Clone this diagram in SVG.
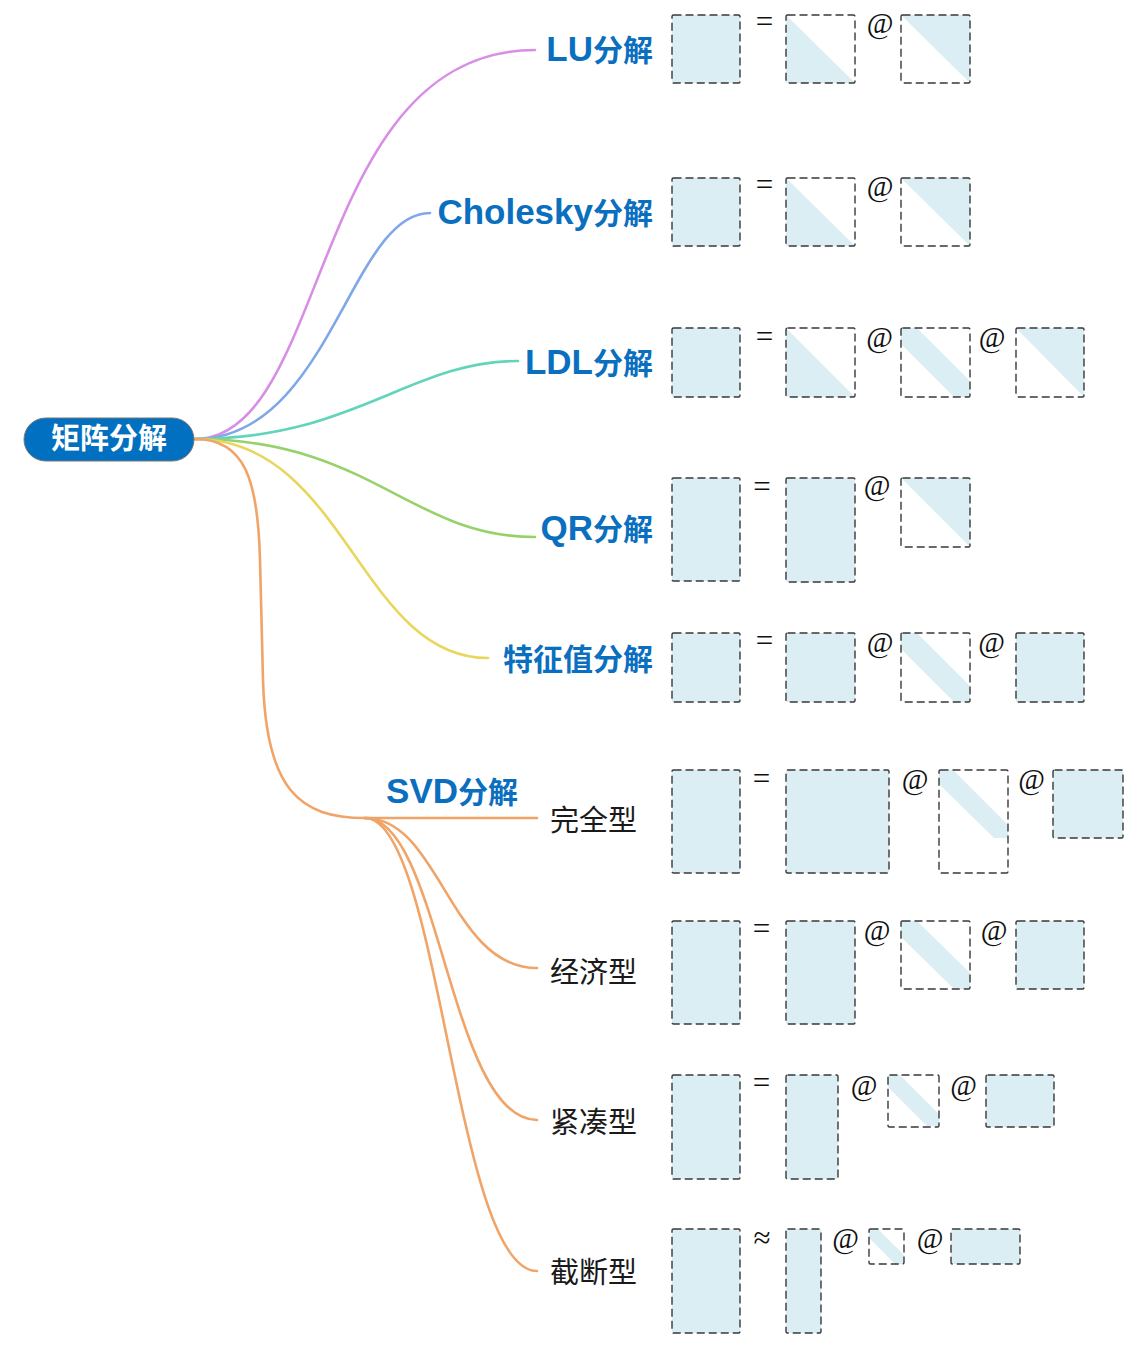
<svg xmlns="http://www.w3.org/2000/svg" width="1148" height="1362" viewBox="0 0 1148 1362">
<style>
.bg{fill:#ffffff}
.c{fill:none;stroke-width:2.6;stroke-linecap:round}
.lbl{font-family:"Liberation Sans","Noto Sans CJK SC",sans-serif;font-weight:bold;font-size:30px;fill:#0b6fc0}
.lat{font-size:35px}
.sub{font-family:"Noto Sans CJK SC","Liberation Sans",sans-serif;font-size:29px;fill:#1a1a1a}
.root-t{font-family:"Noto Sans CJK SC","Liberation Sans",sans-serif;font-weight:bold;font-size:29px;fill:#ffffff}
.m{fill:#dbeef4;stroke:#383838;stroke-width:1.4;stroke-dasharray:8 4}
.e{fill:none;stroke:#383838;stroke-width:1.4;stroke-dasharray:8 4}
.f{fill:#dbeef4}
.op{font-family:"Liberation Serif","DejaVu Serif",serif;font-size:29px;fill:#111;text-anchor:middle}
.eq{font-family:"Liberation Serif","DejaVu Serif",serif;font-size:31px;fill:#111;text-anchor:middle}
</style>
<rect class="bg" x="0" y="0" width="1148" height="1362"/>
<g id="connectors">
<path class="c" stroke="#d98ee6" d="M195,439 C330,439 310,50 535,50"/>
<path class="c" stroke="#80a8e8" d="M195,439 C330,439 350,213 430,213"/>
<path class="c" stroke="#62d4bb" d="M195,439 C355,439 410,361 518,361"/>
<path class="c" stroke="#96d16a" d="M195,439 C370,439 410,537 535,537"/>
<path class="c" stroke="#e8d65e" d="M195,439 C345,439 360,658 488,658"/>
<path class="c" stroke="#f0a468" d="M195,439 C245,439 258,480 260,560 L263,680 C266,790 300,818 365,818"/>
<path class="c" stroke="#f0a468" d="M365,818 L537,818"/>
<path class="c" stroke="#f0a468" d="M365,818 C440,818 450,968 537,968"/>
<path class="c" stroke="#f0a468" d="M365,818 C440,818 450,1120 537,1120"/>
<path class="c" stroke="#f0a468" d="M365,818 C440,818 455,1271 537,1271"/>
</g>
<g id="root">
<rect x="24" y="418" width="170" height="43" rx="21.5" fill="#0270c0" stroke="#777" stroke-width="1"/>
<text class="root-t" x="109" y="449" text-anchor="middle">矩阵分解</text>
</g>
<g id="lu">
<text class="lbl" x="653" y="61" text-anchor="end"><tspan class="lat">LU</tspan>分解</text>
<rect class="m" x="672" y="15" width="68" height="68" rx="1.5"/>
<text class="eq" x="764.5" y="32">=</text>
<polygon class="f" points="786,15 786,83 855,83"/>
<rect class="e" x="786" y="15" width="69" height="68" rx="1.5"/>
<text class="op" x="880" y="33">@</text>
<polygon class="f" points="901,15 970,15 970,83"/>
<rect class="e" x="901" y="15" width="69" height="68" rx="1.5"/>
</g>
<g id="cholesky">
<text class="lbl" x="653" y="224" text-anchor="end"><tspan class="lat">Cholesky</tspan>分解</text>
<rect class="m" x="672" y="178" width="68" height="68" rx="1.5"/>
<text class="eq" x="764.5" y="195">=</text>
<polygon class="f" points="786,178 786,246 855,246"/>
<rect class="e" x="786" y="178" width="69" height="68" rx="1.5"/>
<text class="op" x="880" y="196">@</text>
<polygon class="f" points="901,178 970,178 970,246"/>
<rect class="e" x="901" y="178" width="69" height="68" rx="1.5"/>
</g>
<g id="ldl">
<text class="lbl" x="653" y="374" text-anchor="end"><tspan class="lat">LDL</tspan>分解</text>
<rect class="m" x="672" y="328" width="68" height="69" rx="1.5"/>
<text class="eq" x="764.5" y="346.5">=</text>
<polygon class="f" points="786,328 786,397 855,397"/>
<rect class="e" x="786" y="328" width="69" height="69" rx="1.5"/>
<text class="op" x="879.5" y="347">@</text>
<polygon class="f" points="901,328 917,328 970,381 970,397 954,397 901,344"/>
<rect class="e" x="901" y="328" width="69" height="69" rx="1.5"/>
<text class="op" x="992" y="347">@</text>
<polygon class="f" points="1016,328 1084,328 1084,397"/>
<rect class="e" x="1016" y="328" width="68" height="69" rx="1.5"/>
</g>
<g id="qr">
<text class="lbl" x="653" y="540" text-anchor="end"><tspan class="lat">QR</tspan>分解</text>
<rect class="m" x="672" y="478" width="68" height="103" rx="1.5"/>
<text class="eq" x="762" y="497">=</text>
<rect class="m" x="786" y="478" width="69" height="104" rx="1.5"/>
<text class="op" x="877" y="495">@</text>
<polygon class="f" points="901,478 970,478 970,547"/>
<rect class="e" x="901" y="478" width="69" height="69" rx="1.5"/>
</g>
<g id="eig">
<text class="lbl" x="653" y="670" text-anchor="end">特征值分解</text>
<rect class="m" x="672" y="633" width="68" height="69" rx="1.5"/>
<text class="eq" x="764.5" y="650.5">=</text>
<rect class="m" x="786" y="633" width="69" height="69" rx="1.5"/>
<text class="op" x="880" y="652">@</text>
<polygon class="f" points="901,633 917,633 970,686 970,702 954,702 901,649"/>
<rect class="e" x="901" y="633" width="69" height="69" rx="1.5"/>
<text class="op" x="991.5" y="652">@</text>
<rect class="m" x="1016" y="633" width="68" height="69" rx="1.5"/>
</g>
<g id="svd">
<text class="lbl" x="518" y="803" text-anchor="end"><tspan class="lat">SVD</tspan>分解</text>
</g>
<g id="svd-full">
<text class="sub" x="550" y="831">完全型</text>
<rect class="m" x="672" y="770" width="68" height="103" rx="1.5"/>
<text class="eq" x="761.5" y="788.5">=</text>
<rect class="m" x="786" y="770" width="103" height="103" rx="1.5"/>
<text class="op" x="915" y="789">@</text>
<polygon class="f" points="939,770 953,770 1008,825 1008,838 994,838 939,784"/>
<rect class="e" x="939" y="770" width="69" height="103" rx="1.5"/>
<text class="op" x="1031.5" y="789">@</text>
<rect class="m" x="1053" y="770" width="70" height="68" rx="1.5"/>
</g>
<g id="svd-econ">
<text class="sub" x="550" y="983">经济型</text>
<rect class="m" x="672" y="921" width="68" height="103" rx="1.5"/>
<text class="eq" x="761.5" y="939">=</text>
<rect class="m" x="786" y="921" width="69" height="103" rx="1.5"/>
<text class="op" x="877" y="940">@</text>
<polygon class="f" points="901,921 917,921 970,973 970,989 954,989 901,937"/>
<rect class="e" x="901" y="921" width="69" height="68" rx="1.5"/>
<text class="op" x="994" y="940">@</text>
<rect class="m" x="1016" y="921" width="68" height="68" rx="1.5"/>
</g>
<g id="svd-compact">
<text class="sub" x="550" y="1133">紧凑型</text>
<rect class="m" x="672" y="1075" width="68" height="104" rx="1.5"/>
<text class="eq" x="761.5" y="1093">=</text>
<rect class="m" x="786" y="1075" width="52" height="104" rx="1.5"/>
<text class="op" x="864" y="1095">@</text>
<polygon class="f" points="888,1075 900,1075 939,1114 939,1126 927,1126 888,1087"/>
<rect class="e" x="888" y="1075" width="51" height="52" rx="1.5"/>
<text class="op" x="963.5" y="1095">@</text>
<rect class="m" x="986" y="1075" width="68" height="52" rx="1.5"/>
</g>
<g id="svd-trunc">
<text class="sub" x="550" y="1283">截断型</text>
<rect class="m" x="672" y="1229" width="68" height="104" rx="1.5"/>
<text class="eq" x="762" y="1247.5">≈</text>
<rect class="m" x="786" y="1229" width="35" height="104" rx="1.5"/>
<text class="op" x="845.5" y="1248">@</text>
<polygon class="f" points="869,1229 878,1229 904,1255 904,1264 895,1264 869,1238"/>
<rect class="e" x="869" y="1229" width="35" height="35" rx="1.5"/>
<text class="op" x="930" y="1248">@</text>
<rect class="m" x="951" y="1229" width="69" height="35" rx="1.5"/>
</g>
</svg>
